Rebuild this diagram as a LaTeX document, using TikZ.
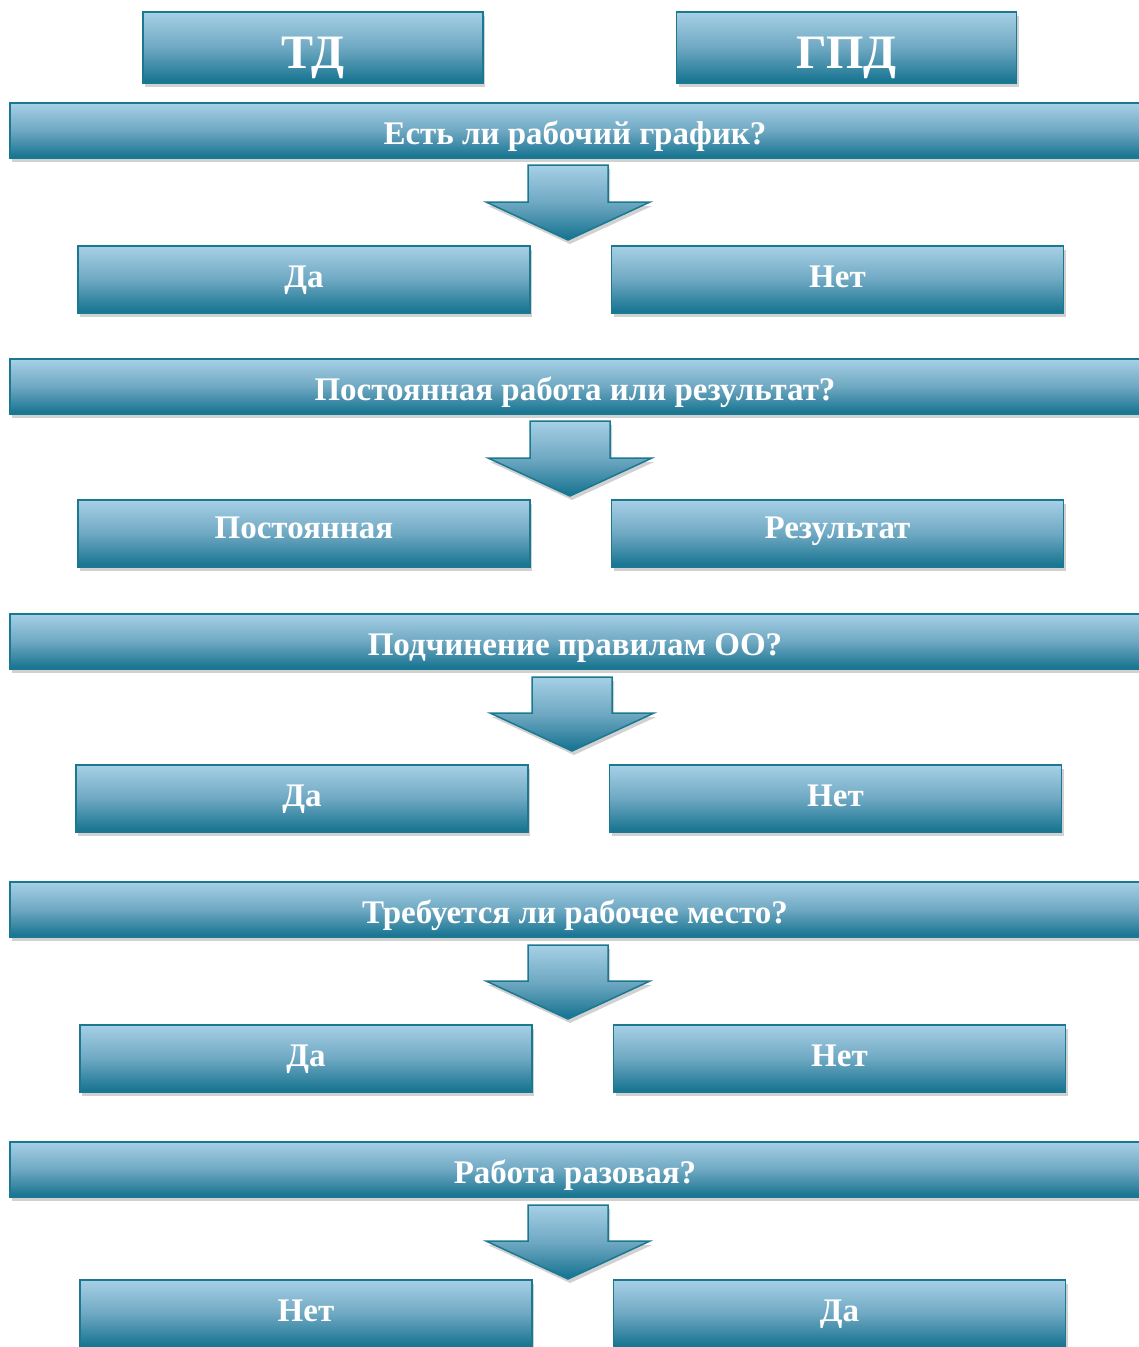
\documentclass[tikz,border=0pt]{standalone}
\usepackage{fontspec}
\setmainfont{Liberation Serif}
\usetikzlibrary{shadows}
\definecolor{boxtop}{HTML}{A6D0E6}
\definecolor{boxmid}{HTML}{6FA8C2}
\definecolor{boxbot}{HTML}{13728F}
\definecolor{boxline}{HTML}{1A7890}
\begin{document}
\begin{tikzpicture}[x=1pt,y=-1pt,
  fillstyle/.style={draw=boxline, line width=1.5pt, top color=boxtop, bottom color=boxbot, middle color=boxmid,
    drop shadow={shadow xshift=2pt,shadow yshift=-4pt,opacity=0.3,fill=black!60}},
  box/.style={fillstyle, text=white, inner sep=0pt, minimum width=452pt, minimum height=67pt,
    text height=16pt, text depth=0pt,
    font=\bfseries\fontsize{33}{33}\selectfont},
  bar/.style={fillstyle, text=white, inner sep=0pt, minimum width=1130pt, minimum height=55pt,
    text height=27pt, text depth=0pt,
    font=\bfseries\fontsize{33}{33}\selectfont},
  topbox/.style={fillstyle, text=white, inner sep=0pt, minimum width=340pt, minimum height=71pt,
    text height=41pt, text depth=0pt,
    font=\bfseries\fontsize{48}{48}\selectfont},
  downarrow/.style={fillstyle}
]
\useasboundingbox (0,0) rectangle (1139,1347);
\clip (0,0) rectangle (1139,1347);
\newcommand{\mydownarrow}[4]{% cx, top, shoulder, tip
  \path[downarrow] (#1-40,#2) -- (#1+40,#2) -- (#1+40,#3) -- (#1+82,#3) -- (#1,#4) -- (#1-82,#3) -- (#1-40,#3) -- cycle;}

\node[topbox] (td) at (313,47.5) {ТД};
\node[topbox] (gpd) at (846.5,47.5) {ГПД};

\node[bar] (q1) at (575,130.5) {Есть ли рабочий график?};
\mydownarrow{568}{165}{202}{240}
\node[box] (a1) at (304,279.5) {Да};
\node[box] (b1) at (837.5,279.5) {Нет};

\node[bar] (q2) at (575,386.5) {Постоянная работа или результат?};
\mydownarrow{570}{421}{458}{496}
\node[box, text height=10pt] (a2) at (304,533.5) {Постоянная};
\node[box, text height=10pt] (b2) at (837.5,533.5) {Результат};

\node[bar] (q3) at (575,641.5) {Подчинение правилам ОО?};
\mydownarrow{572}{677}{713}{751}
\node[box] (a3) at (302,798.5) {Да};
\node[box] (b3) at (835.5,798.5) {Нет};

\node[bar] (q4) at (575,909.5) {Требуется ли рабочее место?};
\mydownarrow{568}{945}{981}{1019}
\node[box] (a4) at (306,1058.5) {Да};
\node[box] (b4) at (839.5,1058.5) {Нет};

\node[bar] (q5) at (575,1169.5) {Работа разовая?};
\mydownarrow{568}{1205}{1241}{1279}
\node[box] (a5) at (306,1313.5) {Нет};
\node[box] (b5) at (839.5,1313.5) {Да};
\end{tikzpicture}
\end{document}
